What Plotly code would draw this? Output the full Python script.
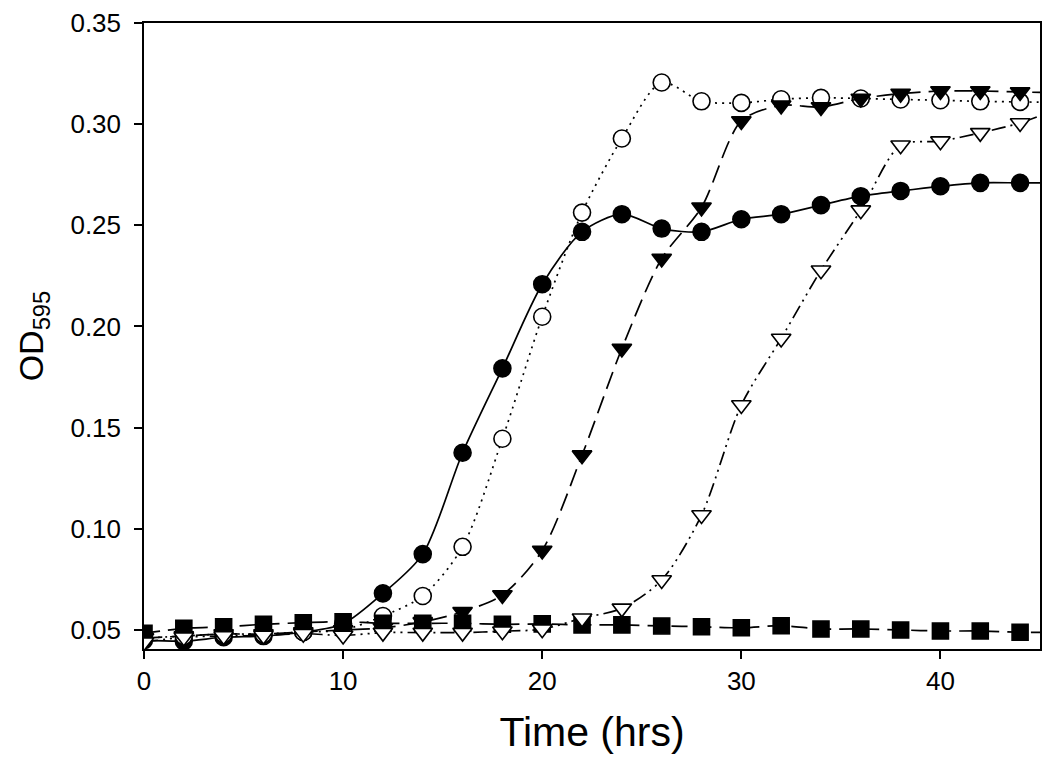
import plotly.graph_objects as go

time = [0, 2, 4, 6, 8, 10, 12, 14, 16, 18, 20, 22, 24, 26, 28, 30, 32, 34, 36, 38, 40, 42, 44, 46]

filled_circles = [0.045, 0.0445, 0.0464, 0.047, 0.049, 0.053, 0.0681, 0.0875, 0.1376, 0.1793,
                  0.2209, 0.2468, 0.2555, 0.2484, 0.2468, 0.253, 0.2555, 0.260, 0.2644, 0.267,
                  0.2693, 0.271, 0.271, 0.271]
open_circles = [0.046, 0.047, 0.048, 0.048, 0.049, 0.050, 0.0569, 0.0668, 0.0911, 0.1445,
                0.2048, 0.2563, 0.2929, 0.3206, 0.3113, 0.3105, 0.3123, 0.313, 0.3127, 0.3122,
                0.3118, 0.3113, 0.311, 0.3108]
filled_triangles = [0.046, 0.047, 0.048, 0.048, 0.049, 0.050, 0.051, 0.054, 0.059, 0.0673,
                    0.0893, 0.1364, 0.1891, 0.2336, 0.2589, 0.3016, 0.3093, 0.3085, 0.3127, 0.3151,
                    0.3164, 0.3164, 0.3159, 0.3155]
open_triangles = [0.044, 0.0464, 0.047, 0.0473, 0.0482, 0.0473, 0.0487, 0.0487, 0.0487, 0.0494,
                  0.0504, 0.0558, 0.0607, 0.0747, 0.1068, 0.1612, 0.1941, 0.2278, 0.2575, 0.2896,
                  0.2916, 0.2957, 0.3006, 0.308]
squares = [0.0484, 0.0508, 0.0516, 0.0528, 0.0536, 0.0541, 0.0533, 0.0533, 0.0533, 0.0528,
           0.053, 0.0525, 0.0525, 0.052, 0.0516, 0.0511, 0.0521, 0.0505, 0.0505, 0.050,
           0.0495, 0.0495, 0.0489, 0.0487]

x_ticks = [0, 10, 20, 30, 40]
y_ticks = [0.05, 0.10, 0.15, 0.20, 0.25, 0.30, 0.35]

FONT = "Liberation Sans, Arial, sans-serif"

fig = go.Figure()

def add(y, symbol, fill, dash, size):
    fig.add_trace(go.Scatter(
        x=time, y=y, mode="lines+markers",
        line=dict(color="black", width=1.7, dash=dash, shape="spline", smoothing=0.8),
        marker=dict(symbol=symbol, size=size, color=fill,
                    line=dict(color="black", width=1.6)),
        showlegend=False,
    ))

add(filled_circles, "circle", "black", "solid", 17)
add(open_circles, "circle", "white", "2px,5px", 17)
add(squares, "square", "black", "16px,8px", 16)
add(filled_triangles, "triangle-down", "black", "18px,8px", 17)
add(open_triangles, "triangle-down", "white", "14px,5px,2px,5px,2px,5px", 17)

axis_common = dict(
    showline=True, linecolor="black", linewidth=1.5, mirror=True,
    ticks="outside", ticklen=8, tickwidth=1.5, tickcolor="black",
    showgrid=False, zeroline=False, automargin=False,
    tickfont=dict(family=FONT, size=26, color="black"),
)

fig.update_xaxes(range=[0, 45], tickvals=x_ticks,
                 title=dict(text="Time (hrs)", standoff=22,
                            font=dict(family=FONT, size=41, color="black")),
                 **axis_common)
fig.update_yaxes(range=[0.0406, 0.35], tickvals=y_ticks, tickformat=".2f",
                 ticklabelstandoff=8,
                 title=dict(text="OD<sub>595</sub>", standoff=17,
                            font=dict(family=FONT, size=34, color="black")),
                 **axis_common)

# The page body adds an 8px offset; size the figure so the plot area lands where the reference has it.
fig.update_layout(
    width=1034, height=749,
    margin=dict(l=136, r=2, t=15, b=108),
    plot_bgcolor="white", paper_bgcolor="white",
)

fig.write_html("out.html")
